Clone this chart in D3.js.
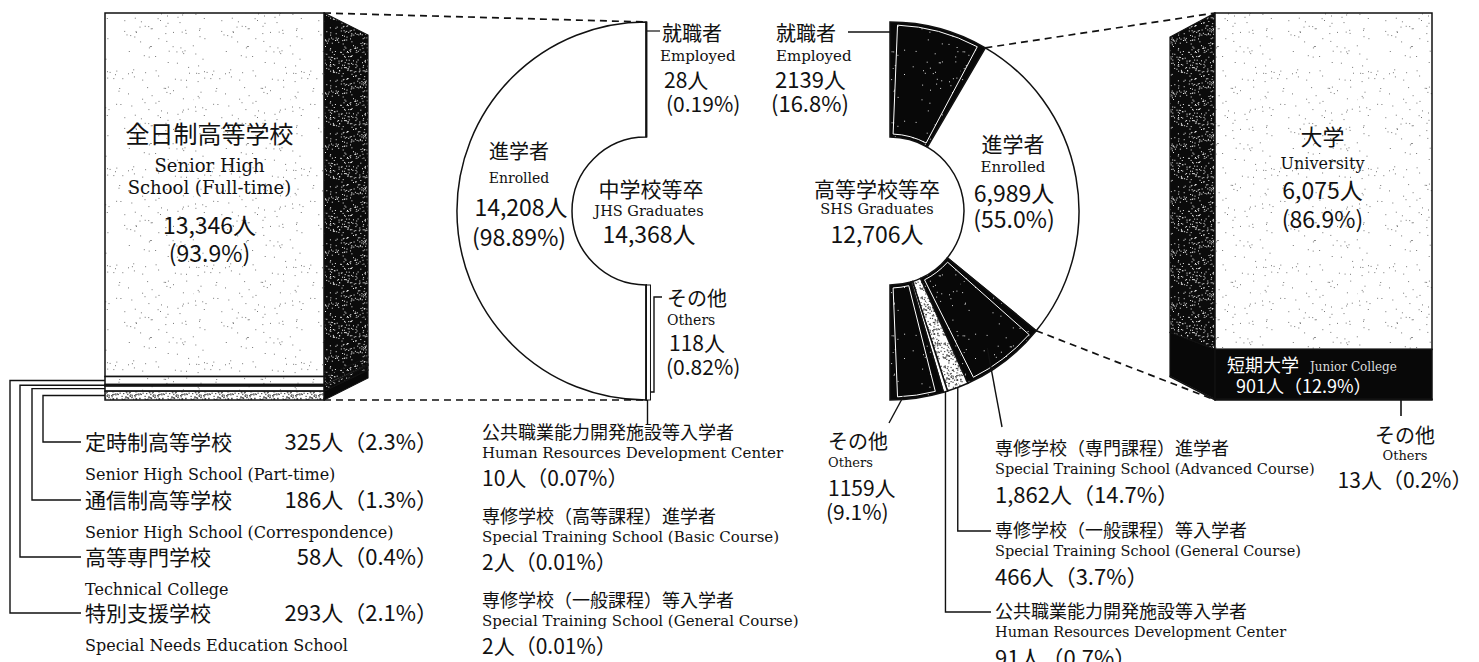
<!DOCTYPE html>
<html><head><meta charset="utf-8">
<script src="https://cdn.jsdelivr.net/npm/d3@7"></script>
<style>body{margin:0;background:#fff}svg{display:block}</style>
</head><body>
<svg id="chart" width="1479" height="662"></svg>
<script>
// ---- Junior high school graduates (中学校等卒) ----
const jhsTotal = 14368;
const jhsKeys = ["enrolled", "employed", "others", "hrdc", "basic", "general"];
const jhsValues = [14208, 28, 118, 10, 2, 2];
const jhsPercents = ["98.89", "0.19", "0.82", "0.07", "0.01", "0.01"];

// ---- Where the enrolled JHS graduates went ----
const hsCategories = ["全日制高等学校", "特別支援学校", "高等専門学校", "通信制高等学校", "定時制高等学校"];
const hsEnglish = ["Senior High School (Full-time)", "Special Needs Education School", "Technical College", "Senior High School  (Correspondence)", "Senior High School  (Part-time)"];
const hsValues = [13346, 293, 58, 186, 325];
const hsPercents = ["93.9", "2.1", "0.4", "1.3", "2.3"];

// ---- Senior high school graduates (高等学校等卒) ----
const shsTotal = 12706;
const shsKeys = ["employed", "enrolled", "advanced", "general", "hrdc", "others"];
const shsValues = [2139, 6989, 1862, 466, 91, 1159];
const shsPercents = ["16.8", "55.0", "14.7", "3.7", "0.7", "9.1"];

// ---- Where the enrolled SHS graduates went ----
const uniCategories = ["大学", "短期大学", "その他"];
const uniValues = [6075, 901, 13];
const uniPercents = ["86.9", "12.9", "0.2"];

const fmt = d3.format(",");
const svg = d3.select("#chart");
const JP = "'Noto Sans CJK JP','Noto Sans',sans-serif";
const EN = "'DejaVu Serif',serif";
const INK = "#111";

function label(x, y, s, size, font, anchor = "start", fill = INK) {
  return svg.append("text").attr("x", x).attr("y", y).attr("dy", "0.36em")
    .attr("font-family", font).attr("font-size", size)
    .attr("text-anchor", anchor).attr("fill", fill).text(s);
}

// ---- halftone textures ----
const defs = svg.append("defs");
const hash = i => { const s = Math.sin(i * 127.1 + 311.7) * 43758.5453; return s - Math.floor(s); };
function stipple(id, size, n, bg, dot, r) {
  const p = defs.append("pattern").attr("id", id).attr("patternUnits", "userSpaceOnUse")
    .attr("width", size).attr("height", size);
  p.append("rect").attr("width", size).attr("height", size).attr("fill", bg);
  for (let i = 0; i < n; i++) {
    p.append("rect").attr("x", (hash(i * 2 + 1) * size).toFixed(1)).attr("y", (hash(i * 2 + 2) * size).toFixed(1))
      .attr("width", r).attr("height", r).attr("fill", dot);
  }
}
stipple("light", 97, 110, "#fff", "#777", 1);
stipple("dark", 53, 260, "#0b0b0b", "#eee", 1);
stipple("ink", 71, 45, "#080808", "#ddd", 1);
stipple("mid", 23, 90, "#fff", "#444", 1.2);
const fillOf = k => ({ light: "url(#light)", dark: "url(#dark)", ink: "url(#ink)", mid: "url(#mid)", black: "#080808", white: "#fff" }[k]);

// ---- 3D stacked column ----
function drawBar(cfg) {
  const { values, fills, sideFills, x0, x1, edge, sideX, top, bottom, sideTop, sideBottom } = cfg;
  const y = d3.scaleLinear().domain([0, d3.sum(values)]).range([top, bottom]);
  const ends = d3.cumsum(values);
  const segs = values.map((v, i) => ({ v, i, y0: y(ends[i] - v), y1: y(ends[i]) }));
  const sy = t => sideTop + (t - top) * (sideBottom - sideTop) / (bottom - top);
  const g = svg.append("g");
  g.selectAll(".side").data(segs).join("path")
    .attr("d", d => `M${edge},${d.y0}L${sideX},${sy(d.y0)}L${sideX},${sy(d.y1)}L${edge},${d.y1}Z`)
    .attr("fill", d => fillOf(sideFills[d.i])).attr("stroke", INK).attr("stroke-width", 1.2);
  g.selectAll(".front").data(segs).join("rect")
    .attr("x", x0).attr("width", x1 - x0).attr("y", d => d.y0).attr("height", d => d.y1 - d.y0)
    .attr("fill", d => fillOf(fills[d.i])).attr("stroke", INK).attr("stroke-width", 1.5);
  return segs;
}

// ================= Left column: enrolled JHS graduates =================
const L = { x0: 105, x1: 324, top: 13, bottom: 400 };
const hsSegs = drawBar({
  values: hsValues, fills: ["light", "light", "white", "light", "mid"],
  sideFills: ["dark", "dark", "white", "dark", "black"],
  x0: L.x0, x1: L.x1, edge: L.x1, sideX: 368, top: L.top, bottom: L.bottom, sideTop: 35, sideBottom: 378
});
const lcx = (L.x0 + L.x1) / 2 - 5;
label(lcx, 134, hsCategories[0], 24, JP, "middle");
label(lcx, 166, "Senior High", 18, EN, "middle");
label(lcx, 188, "School  (Full-time)", 18, EN, "middle");
label(lcx, 226, fmt(hsValues[0]) + "人", 23, JP, "middle");
label(lcx, 254, "(" + hsPercents[0] + "%)", 23, JP, "middle");

// leaders and list for the small column segments
const listY = { 1: 613, 2: 557, 3: 500, 4: 442 };
const leaderX = { 1: 10, 2: 20, 3: 32, 4: 43 };
hsSegs.slice(1).forEach(d => {
  const ym = (d.y0 + d.y1) / 2, ly = listY[d.i];
  svg.append("path").attr("d", `M${L.x0},${ym}H${leaderX[d.i]}V${ly}H81`)
    .attr("fill", "none").attr("stroke", INK).attr("stroke-width", 1.4);
  label(85, ly, hsCategories[d.i], 21, JP);
  label(438, ly, fmt(d.v) + "人（" + hsPercents[d.i] + "%）", 22, JP, "end");
  label(85, ly + 32, hsEnglish[d.i], 16, EN);
});

// ================= JHS half ring =================
const J = { cx: 646, cy: 211, R: 189, r: 74 };
const gj = svg.append("g").attr("transform", `translate(${J.cx},${J.cy})`);
gj.append("path")
  .attr("d", d3.arc().innerRadius(J.r).outerRadius(J.R).startAngle(Math.PI).endAngle(2 * Math.PI)())
  .attr("fill", "#fff").attr("stroke", INK).attr("stroke-width", 1.5);
// the small shares are drawn as thin strips along the cut edge
const stripW = d3.scaleLinear().domain([0, jhsValues[2]]).range([0, 4]);
gj.append("rect").attr("x", 0).attr("y", -J.R).attr("width", stripW(jhsValues[1])).attr("height", J.R - J.r)
  .attr("fill", INK).attr("stroke", INK).attr("stroke-width", 1);
let sx = 0;
[3, 4, 5, 2].forEach(i => {
  const w = stripW(jhsValues[i]);
  gj.append("rect").attr("x", sx).attr("y", J.r).attr("width", w).attr("height", J.R - J.r)
    .attr("fill", "#fff").attr("stroke", INK).attr("stroke-width", 1);
  sx += w;
});
// dashed guides from the left column to the ring
svg.append("path").attr("d", `M${L.x1},${L.top}L${J.cx},${J.cy - J.R}M${L.x1},${L.bottom}L${J.cx},${J.cy + J.R}`)
  .attr("stroke", INK).attr("stroke-width", 1.7).attr("stroke-dasharray", "7,5").attr("fill", "none");

label(519, 152, "進学者", 20, JP, "middle");
label(519, 178, "Enrolled", 14, EN, "middle");
label(521, 208, fmt(jhsValues[0]) + "人", 23, JP, "middle");
label(519, 238, "(" + jhsPercents[0] + "%)", 23, JP, "middle");
label(J.cx + 5, 189, "中学校等卒", 21, JP, "middle");
label(J.cx + 3, 211, "JHS Graduates", 14.5, EN, "middle");
label(J.cx + 3, 235, fmt(jhsTotal) + "人", 23, JP, "middle");

// employed
const jEmpX = J.cx + stripW(jhsValues[1]);
svg.append("path").attr("d", `M${jEmpX},31H660`).attr("stroke", INK).attr("stroke-width", 1.2);
label(662, 34, "就職者", 20, JP);
label(660, 56, "Employed", 15, EN);
label(664, 80, jhsValues[1] + "人", 21, JP);
label(666, 104, "(" + jhsPercents[1] + "%)", 21, JP);
// others
svg.append("path").attr("d", `M662,297H654V392H${J.cx + sx}`).attr("fill", "none").attr("stroke", INK).attr("stroke-width", 1.4);
label(667, 299, "その他", 20, JP);
label(667, 320, "Others", 14, EN);
label(669, 343, jhsValues[2] + "人", 21, JP);
label(666, 367, "(" + jhsPercents[2] + "%)", 21, JP);
// remaining tiny shares listed below
svg.append("path").attr("d", `M${J.cx + 1.5},${J.cy + J.R}V425`).attr("stroke", INK).attr("stroke-width", 1.4);
const jhsListJP = ["公共職業能力開発施設等入学者", "専修学校（高等課程）進学者", "専修学校（一般課程）等入学者"];
const jhsListEN = ["Human Resources Development Center", "Special Training School  (Basic Course)", "Special Training School  (General Course)"];
[3, 4, 5].forEach((k, j) => {
  const y0 = 433 + j * 84;
  label(482, y0, jhsListJP[j], 18, JP);
  label(482, y0 + 20, jhsListEN[j], 15, EN);
  label(482, y0 + 45, jhsValues[k] + "人（" + jhsPercents[k] + "%）", 21, JP);
});

// ================= SHS half ring =================
const S = { cx: 890, cy: 211, R: 189, r: 74 };
const shsFills = ["ink", "white", "ink", "mid", "white", "ink"];
const pie = d3.pie().sort(null).startAngle(0).endAngle(Math.PI);
const arcs = pie(shsValues);
const arc = d3.arc().innerRadius(S.r).outerRadius(S.R);
const gs = svg.append("g").attr("transform", `translate(${S.cx},${S.cy})`);
gs.selectAll(".seg").data(arcs).join("path")
  .attr("d", arc).attr("fill", (d, i) => fillOf(shsFills[i])).attr("stroke", INK).attr("stroke-width", 1.5);
// thin white inner rims on the dark segments
gs.selectAll(".rim").data(arcs.filter((d, i) => shsFills[i] === "ink")).join("path")
  .attr("d", d => d3.arc().innerRadius(S.r + 3).outerRadius(S.R - 3)
    .startAngle(d.startAngle + 3 / S.r).endAngle(d.endAngle - 3 / S.r)())
  .attr("fill", "none").attr("stroke", "#fff").attr("stroke-width", 1);
const polar = (a, rr) => [S.cx + rr * Math.sin(a), S.cy - rr * Math.cos(a)];

// dashed guides from the enrolled segment to the right column
const R2 = { x0: 1215, x1: 1432, top: 13, bottom: 400 };
const [ex0, ey0] = polar(arcs[1].startAngle, S.R);
const [ex1, ey1] = polar(arcs[1].endAngle, S.R);
svg.append("path").attr("d", `M${ex0},${ey0}L${R2.x0},${R2.top}M${ex1},${ey1}L${R2.x0},${R2.bottom}`)
  .attr("stroke", INK).attr("stroke-width", 1.7).attr("stroke-dasharray", "7,5").attr("fill", "none");

label(S.cx - 13, 189, "高等学校等卒", 21, JP, "middle");
label(S.cx - 13, 209, "SHS Graduates", 14.5, EN, "middle");
label(S.cx - 13, 235, fmt(shsTotal) + "人", 23, JP, "middle");

// employed
svg.append("path").attr("d", `M848,32H${S.cx}`).attr("stroke", INK).attr("stroke-width", 1.4);
label(776, 34, "就職者", 20, JP);
label(776, 56, "Employed", 15, EN);
label(775, 80, shsValues[0] + "人", 22, JP);
label(771, 104, "(" + shsPercents[0] + "%)", 22, JP);
// enrolled
label(1013, 144, "進学者", 21, JP, "middle");
label(1013, 167, "Enrolled", 15, EN, "middle");
label(1014, 194, fmt(shsValues[1]) + "人", 23, JP, "middle");
label(1014, 220, "(" + shsPercents[1] + "%)", 23, JP, "middle");
// others
{
  const a = arcs[5].startAngle + 0.75 * (arcs[5].endAngle - arcs[5].startAngle);
  const [ox, oy] = polar(a, S.R - 3);
  svg.append("path").attr("d", `M${ox},${oy}L889,423`).attr("stroke", INK).attr("stroke-width", 1.4);
  label(828, 442, "その他", 20, JP);
  label(828, 462, "Others", 13, EN);
  label(828, 488, shsValues[5] + "人", 21, JP);
  label(826, 512, "(" + shsPercents[5] + "%)", 21, JP);
}
// advanced course
{
  const a = arcs[2].startAngle + 0.58 * (arcs[2].endAngle - arcs[2].startAngle);
  const [ax, ay] = polar(a, S.R - 21);
  svg.append("path").attr("d", `M${ax},${ay}L1002,427`).attr("stroke", INK).attr("stroke-width", 1.4);
}
// general course / HRDC
[[3, 531], [4, 612]].forEach(([i, ly]) => {
  const a = (arcs[i].startAngle + arcs[i].endAngle) / 2;
  const [gx, gy] = polar(a, S.R);
  svg.append("path").attr("d", `M${gx},${gy}V${ly}H991`).attr("fill", "none").attr("stroke", INK).attr("stroke-width", 1.4);
});
const shsListJP = ["専修学校（専門課程）進学者", "専修学校（一般課程）等入学者", "公共職業能力開発施設等入学者"];
const shsListEN = ["Special Training School  (Advanced Course)", "Special Training School  (General   Course)", "Human Resources  Development Center"];
[2, 3, 4].forEach((k, j) => {
  const y0 = [449, 531, 612][j];
  label(995, y0, shsListJP[j], 18, JP);
  label(995, y0 + 20, shsListEN[j], 14.5, EN);
  label(995, y0 + 46, fmt(shsValues[k]) + "人（" + shsPercents[k] + "%）", 22, JP);
});

// ================= Right column: enrolled SHS graduates =================
const uniSegs = drawBar({
  values: uniValues, fills: ["light", "black", "white"], sideFills: ["dark", "black", "white"],
  x0: R2.x0, x1: R2.x1, edge: R2.x0, sideX: 1170, top: R2.top, bottom: R2.bottom, sideTop: 37, sideBottom: 377
});
const rcx = (R2.x0 + R2.x1) / 2 - 1;
label(rcx, 137, uniCategories[0], 22, JP, "middle");
label(rcx, 163, "University", 16, EN, "middle");
label(rcx, 191, fmt(uniValues[0]) + "人", 23, JP, "middle");
label(rcx, 220, "(" + uniPercents[0] + "%)", 23, JP, "middle");
const jc = uniSegs[1];
label(1227, jc.y0 + 16, uniCategories[1], 18, JP, "start", "#fff");
label(1310, jc.y0 + 17, "Junior College", 12, EN, "start", "#ddd");
label(1236, jc.y0 + 37, fmt(uniValues[1]) + "人（" + uniPercents[1] + "%）", 18, JP, "start", "#fff");
svg.append("path").attr("d", `M1401,${R2.bottom}V416`).attr("stroke", INK).attr("stroke-width", 1.6);
label(1405, 436, uniCategories[2], 20, JP, "middle");
label(1405, 455, "Others", 13, EN, "middle");
label(1405, 480, uniValues[2] + "人（" + uniPercents[2] + "%）", 21, JP, "middle");
</script>
</body></html>
